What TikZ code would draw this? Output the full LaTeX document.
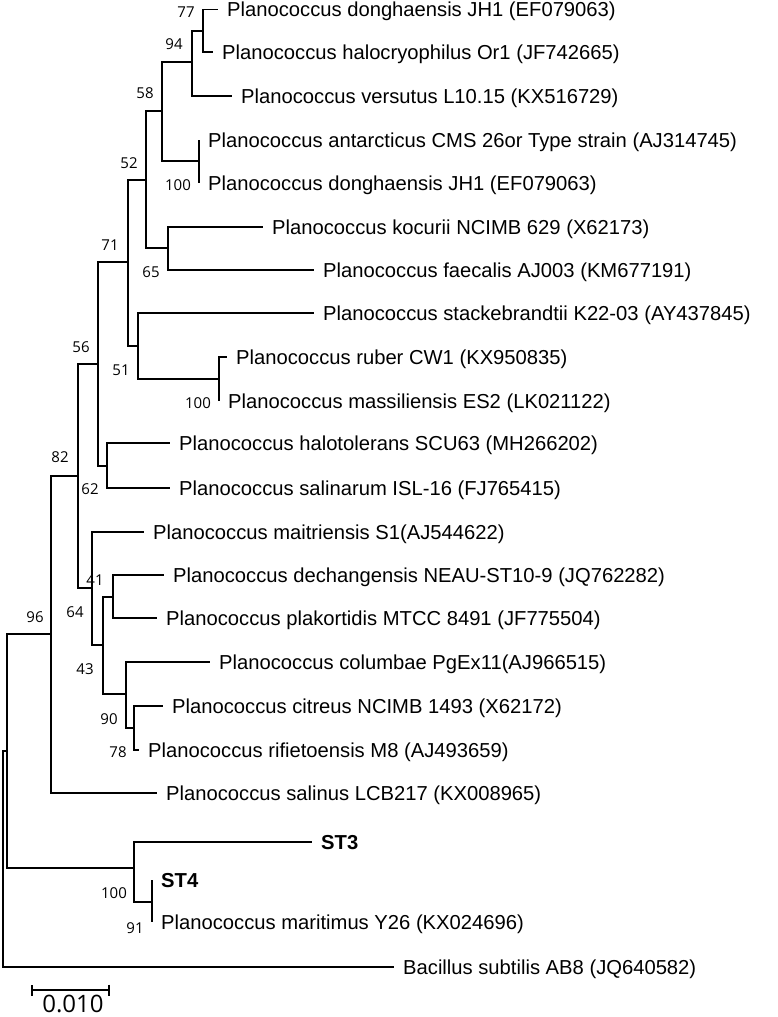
\documentclass[tikz,border=0pt]{standalone}
\usepackage{fontspec}
\setmainfont{Liberation Sans}
\newfontfamily\bootfont{Open Sans}
\usetikzlibrary{arrows.meta}

\tikzset{
  branch/.style={line width=1.6pt},
  leaf/.style={anchor=west, inner xsep=9pt, inner ysep=0pt, text height=14.6pt, text depth=0pt, font=\fontsize{20.2}{24}\selectfont},
  boot/.style={inner sep=0pt, text height=10.7pt, text depth=0pt, font=\bootfont\fontsize{15}{17}\selectfont},
}

\begin{document}
\begin{tikzpicture}[x=1pt, y=-1pt]
\useasboundingbox (0,0) rectangle (777,1017);

%leaves
\foreach \n/\x/\y/\t in {
  1/218/9.5/Planococcus donghaensis JH1 (EF079063),
  2/213/52/Planococcus halocryophilus Or1 (JF742665),
  3/232/96/Planococcus versutus L10.15 (KX516729),
  4/199/140/Planococcus antarcticus CMS 26or Type strain (AJ314745),
  5/199/183/Planococcus donghaensis JH1 (EF079063),
  6/263/227/Planococcus kocurii NCIMB 629 (X62173),
  7/314/270/Planococcus faecalis AJ003 (KM677191),
  8/314/313/Planococcus stackebrandtii K22-03 (AY437845),
  9/227/357/Planococcus ruber CW1 (KX950835),
  10/219/401/Planococcus massiliensis ES2 (LK021122),
  11/170/443/Planococcus halotolerans SCU63 (MH266202),
  12/170/488/Planococcus salinarum ISL-16 (FJ765415),
  13/144/532/Planococcus maitriensis S1(AJ544622),
  14/164/575/Planococcus dechangensis NEAU-ST10-9 (JQ762282),
  15/157/618/Planococcus plakortidis MTCC 8491 (JF775504),
  16/210/662/Planococcus columbae PgEx11(AJ966515),
  17/163/706/Planococcus citreus NCIMB 1493 (X62172),
  18/139/750/Planococcus rifietoensis M8 (AJ493659),
  19/157/793/Planococcus salinus LCB217 (KX008965),
  20/312/842/\textbf{ST3},
  21/152/880/\textbf{ST4},
  22/152/922/Planococcus maritimus Y26 (KX024696),
  23/394/967/Bacillus subtilis AB8 (JQ640582)}
  \node[leaf] (l\n) at (\x,\y) {\t};

%internal nodes
\coordinate (n77) at (203,31);
\coordinate (n94) at (192,62);
\coordinate (n100a) at (199,161);
\coordinate (n58) at (162,111);
\coordinate (n65) at (168,248);
\coordinate (n52) at (146,180);
\coordinate (n100b) at (219,379);
\coordinate (n51) at (138,346);
\coordinate (n71) at (128,262);
\coordinate (n62) at (107,466);
\coordinate (n56) at (98,364);
\coordinate (n41) at (113,597);
\coordinate (n78) at (134,728);
\coordinate (n90) at (126,694);
\coordinate (n43) at (103,645);
\coordinate (n64) at (92,588);
\coordinate (n82) at (78,476);
\coordinate (n96) at (51,634);
\coordinate (n91) at (152,902);
\coordinate (n100c) at (134,868);
\coordinate (nin) at (7,751);
\coordinate (root) at (3,859);

%branches
\foreach \p/\c in {n77/l1.west, n77/l2.west, n94/n77, n94/l3.west,
    n100a/l4.west, n100a/l5.west, n58/n94, n58/n100a,
    n65/l6.west, n65/l7.west, n52/n58, n52/n65,
    n100b/l9.west, n100b/l10.west, n51/l8.west, n51/n100b,
    n71/n52, n71/n51, n62/l11.west, n62/l12.west, n56/n71, n56/n62,
    n41/l14.west, n41/l15.west, n78/l17.west, n78/l18.west,
    n90/l16.west, n90/n78, n43/n41, n43/n90, n64/l13.west, n64/n43,
    n82/n56, n82/n64, n96/n82, n96/l19.west,
    n91/l21.west, n91/l22.west, n100c/l20.west, n100c/n91,
    nin/n96, nin/n100c, root/nin, root/l23.west}
  \draw[branch] (\p) |- (\c);

%bootstrap values
\foreach \n/\x/\y/\v in {77/186/12.5/77, 94/174/44/94, 58/145/93/58,
    52/129/163/52, 100a/178/185/100, 71/110/245/71, 65/151/272/65,
    51/121/370/51, 100b/198/403/100, 56/81/347/56, 82/60/457/82,
    62/90/489/62, 41/95/580/41, 64/75/612/64, 96/35/617/96,
    43/85/669/43, 90/109/719/90, 78/118/752/78, 100c/114/893/100,
    91/135/928/91}
  \node[boot] (b\n) at (\x,\y) {\v};

%scale bar
\coordinate (s1) at (31,990);
\coordinate (s2) at (110,990);
\draw[branch, {Bar[width=11pt]}-{Bar[width=11pt]}] (s1) -- (s2);
\node[inner sep=0pt, text height=17pt, text depth=0pt, font=\bootfont\fontsize{24}{28}\selectfont] (scale) at (73,1004) {0.010};
\end{tikzpicture}
\end{document}
